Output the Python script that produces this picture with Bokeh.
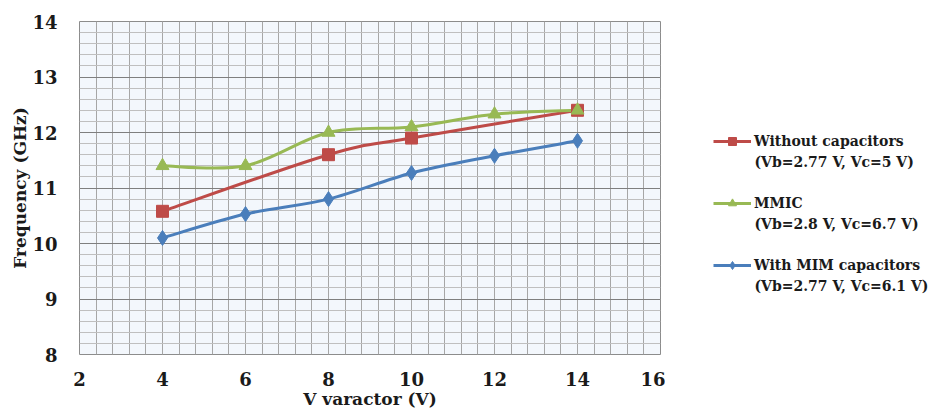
import numpy as np
from bokeh.plotting import figure
from bokeh.layouts import row
from bokeh.models import (ColumnDataSource, FixedTicker, Legend, LegendItem, Range1d, Label, Spacer)
from bokeh.embed import file_html
from bokeh.resources import INLINE

# ---- data ----
x_without = [4, 8, 10, 14]
y_without = [10.58, 11.6, 11.9, 12.4]
x_mmic = [4, 6, 8, 10, 12, 14]
y_mmic = [11.4, 11.4, 12.0, 12.1, 12.33, 12.4]
x_mim = [4, 6, 8, 10, 12, 14]
y_mim = [10.1, 10.53, 10.8, 11.27, 11.58, 11.85]

names = ["Without capacitors", "MMIC", "With MIM capacitors"]
conditions = ["(Vb=2.77 V, Vc=5 V)", "(Vb=2.8 V, Vc=6.7 V)", "(Vb=2.77 V, Vc=6.1 V)"]

x_ticks = [2, 4, 6, 8, 10, 12, 14, 16]
y_ticks = [8, 9, 10, 11, 12, 13, 14]

FONT = "DejaVu Serif"
RED, GREEN, BLUE = "#BE4B48", "#98B954", "#4A7EBB"
TXT = "#1a1a1a"

FW, FH = 581, 333          # plot frame size
TOP, BOTTOM = 21, 55       # borders above / below the frame


def smooth_segments(xs, ys):
    """Excel-style smoothed line: cubic Bezier control points from the data."""
    px = np.asarray(xs, float)
    py = np.asarray(ys, float)
    n = len(px)
    x0, y0, x1, y1, cx0, cy0, cx1, cy1 = ([] for _ in range(8))
    for i in range(n - 1):
        im = max(i - 1, 0)
        ip = min(i + 2, n - 1)
        x0.append(px[i]); y0.append(py[i])
        x1.append(px[i + 1]); y1.append(py[i + 1])
        cx0.append(px[i] + (px[i + 1] - px[im]) / 6.0)
        cy0.append(py[i] + (py[i + 1] - py[im]) / 6.0)
        cx1.append(px[i + 1] - (px[ip] - px[i]) / 6.0)
        cy1.append(py[i + 1] - (py[ip] - py[i]) / 6.0)
    return ColumnDataSource(dict(x0=x0, y0=y0, x1=x1, y1=y1,
                                 cx0=cx0, cy0=cy0, cx1=cx1, cy1=cy1))


# ---------------- main chart ----------------
p = figure(frame_width=FW, frame_height=FH, output_backend="svg", toolbar_location=None,
           x_range=Range1d(2, 16), y_range=Range1d(8, 14),
           min_border_left=60, min_border_right=5, min_border_top=TOP,
           min_border_bottom=BOTTOM)

p.border_fill_color = "white"
p.background_fill_color = "#F3F7FC"
p.outline_line_color = "#8C8C8C"
p.outline_line_width = 1

p.xaxis.ticker = FixedTicker(ticks=x_ticks, minor_ticks=list(np.round(np.arange(2, 16.01, 0.4), 2)))
p.yaxis.ticker = FixedTicker(ticks=y_ticks, minor_ticks=list(np.round(np.arange(8, 14.01, 0.2), 2)))

p.xgrid.grid_line_color = "#A6A6A6"
p.xgrid.minor_grid_line_color = "#A6A6A6"
p.ygrid.grid_line_color = "#7F7F7F"
p.ygrid.minor_grid_line_color = "#BFBFBF"

for ax in (p.xaxis, p.yaxis):
    ax.axis_line_color = None
    ax.major_tick_line_color = None
    ax.minor_tick_line_color = None
    ax.major_label_text_font = FONT
    ax.major_label_text_font_style = "bold"
    ax.major_label_text_font_size = "18px"
    ax.major_label_text_color = TXT
    ax.axis_label_text_font = FONT
    ax.axis_label_text_font_style = "bold"
    ax.axis_label_text_font_size = "17px"
    ax.axis_label_text_color = TXT

p.xaxis.axis_label = "V varactor (V)"
p.yaxis.axis_label = "Frequency (GHz)"
p.xaxis.major_label_standoff = 11
p.yaxis.major_label_standoff = 16
p.xaxis.axis_label_standoff = 0
p.yaxis.axis_label_standoff = -1

src_w = smooth_segments(x_without, y_without)
src_m = smooth_segments(x_mmic, y_mmic)
src_b = smooth_segments(x_mim, y_mim)

lw = 3
BZ = ("x0", "y0", "x1", "y1", "cx0", "cy0", "cx1", "cy1")
p.bezier(*BZ, source=src_w, line_color=RED, line_width=lw)
p.bezier(*BZ, source=src_m, line_color=GREEN, line_width=lw)
p.bezier(*BZ, source=src_b, line_color=BLUE, line_width=lw)

p.scatter(x_without, y_without, marker="square", size=12, fill_color=RED, line_color=RED)
p.scatter(x_mmic, y_mmic, marker="triangle", size=13, fill_color=GREEN, line_color=GREEN)
p.scatter(x_mim, y_mim, marker="diamond", size=15, fill_color=BLUE, line_color=BLUE)

# ---------------- legend panel ----------------
LW = 265
q = figure(frame_width=LW, frame_height=FH, output_backend="svg", toolbar_location=None,
           x_range=Range1d(0, LW), y_range=Range1d(0, FH),
           x_axis_location=None, y_axis_location=None,
           min_border_left=0, min_border_right=0, min_border_top=TOP,
           min_border_bottom=BOTTOM, outline_line_color=None)
q.grid.visible = False
q.border_fill_color = "white"
q.background_fill_color = "white"

styles = [(RED, "square", 11), (GREEN, "triangle", 12), (BLUE, "diamond", 13)]
items = []
for name, (col, mk, sz) in zip(names, styles):
    # legend-key renderers only (no visible data)
    rl = q.line(x=[np.nan], y=[np.nan], line_color=col, line_width=lw)
    rs = q.scatter(x=[np.nan], y=[np.nan], marker=mk, size=sz, fill_color=col, line_color=col)
    items.append(LegendItem(label=name, renderers=[rl, rs]))

gx = 48
legend = Legend(items=items, location=(gx, 79))
legend.label_text_font = FONT
legend.label_text_font_style = "bold"
legend.label_text_font_size = "14px"
legend.label_text_color = TXT
legend.glyph_width = 38
legend.label_height = 20
legend.glyph_height = 20
legend.spacing = 42
legend.padding = 0
legend.margin = 0
legend.border_line_color = None
legend.background_fill_alpha = 0
legend.label_standoff = 3
q.add_layout(legend, "center")

# second line of each legend entry
for cond, yv in zip(conditions, [193, 131, 69]):
    q.add_layout(Label(x=gx + 41, y=yv, text=cond, text_font=FONT, text_font_style="bold",
                       text_font_size="14px", text_color=TXT, text_baseline="middle"))

layout = row(Spacer(width=7, height=FH + TOP + BOTTOM), p, q, spacing=0)
open("out.html", "w").write(file_html(layout, INLINE))
